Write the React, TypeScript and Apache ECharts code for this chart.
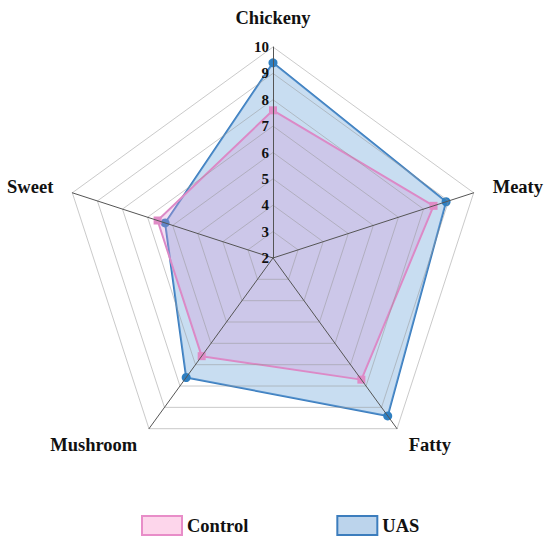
import React, { useEffect, useRef } from "react";
import * as echarts from "echarts";

// ECharts lays indicators out counter-clockwise from the top
const indicators = ["Chickeny", "Sweet", "Mushroom", "Fatty", "Meaty"];
const axisMin = 2;
const axisMax = 10;
const controlValues = [7.6, 6.6, 6.6, 7.7, 8.4];
const uasValues = [9.4, 6.3, 7.6, 9.4, 8.9];
const seriesNames = ["Control", "UAS"];

export default function App() {
  const ref = useRef<HTMLDivElement>(null);
  useEffect(() => {
    if (!ref.current) return;
    const chart = echarts.init(ref.current, null, { renderer: "svg" });
    const font = "Liberation Serif, DejaVu Serif, serif";
    chart.setOption({
      animation: false,
      textStyle: { fontFamily: font },
      legend: {
        left: 136,
        top: 510,
        itemWidth: 40,
        itemHeight: 19,
        itemGap: 88,
        selectedMode: false,
        textStyle: { fontFamily: font, fontWeight: "bold", fontSize: 18.5, color: "#111" },
        data: [
          {
            name: seriesNames[0],
            icon: "rect",
            itemStyle: { color: "#fdd6eb", borderColor: "#e88dc8", borderWidth: 2 },
          },
          {
            name: seriesNames[1],
            icon: "rect",
            itemStyle: { color: "#bcd4ec", borderColor: "#3c7dbd", borderWidth: 2 },
          },
        ],
      },
      radar: {
        z: 5,
        center: [273, 258],
        radius: 211,
        startAngle: 90,
        splitNumber: 8,
        shape: "polygon",
        nameGap: 20,
        axisName: {
          color: "#111",
          fontFamily: font,
          fontWeight: "bold",
          fontSize: 18.5,
        },
        axisLine: { lineStyle: { color: "#555", width: 1 } },
        splitLine: { lineStyle: { color: "rgba(150,150,150,0.5)", width: 1 } },
        splitArea: { show: false },
        axisTick: { show: false },
        axisLabel: {
          show: false,
          fontFamily: font,
          fontWeight: "bold",
          fontSize: 15,
          color: "#111",
          margin: 4,
        },
        indicator: indicators.map((name, i) =>
          i === 0
            ? { name, min: axisMin, max: axisMax, axisLabel: { show: true } }
            : { name, min: axisMin, max: axisMax }
        ),
      },
      series: [
        {
          type: "radar",
          z: 2,
          data: [
            {
              name: seriesNames[1],
              value: uasValues,
              symbol: "circle",
              symbolSize: 9,
              itemStyle: { color: "#2f7fc1" },
              lineStyle: { color: "#3a7dbf", width: 2 },
              areaStyle: { color: "rgba(125,175,222,0.42)", opacity: 1 },
            },
          ],
        },
        {
          type: "radar",
          z: 3,
          data: [
            {
              name: seriesNames[0],
              value: controlValues,
              symbol: "rect",
              symbolSize: 8,
              itemStyle: { color: "#e08bc6" },
              lineStyle: { color: "#dd88c4", width: 2 },
              areaStyle: { color: "rgba(215,150,215,0.3)", opacity: 1 },
            },
          ],
        },
      ],
    });
    return () => chart.dispose();
  }, []);
  return (
    <div
      ref={ref}
      style={{ position: "fixed", left: 0, top: 0, width: 550, height: 539, background: "#fff" }}
    />
  );
}
